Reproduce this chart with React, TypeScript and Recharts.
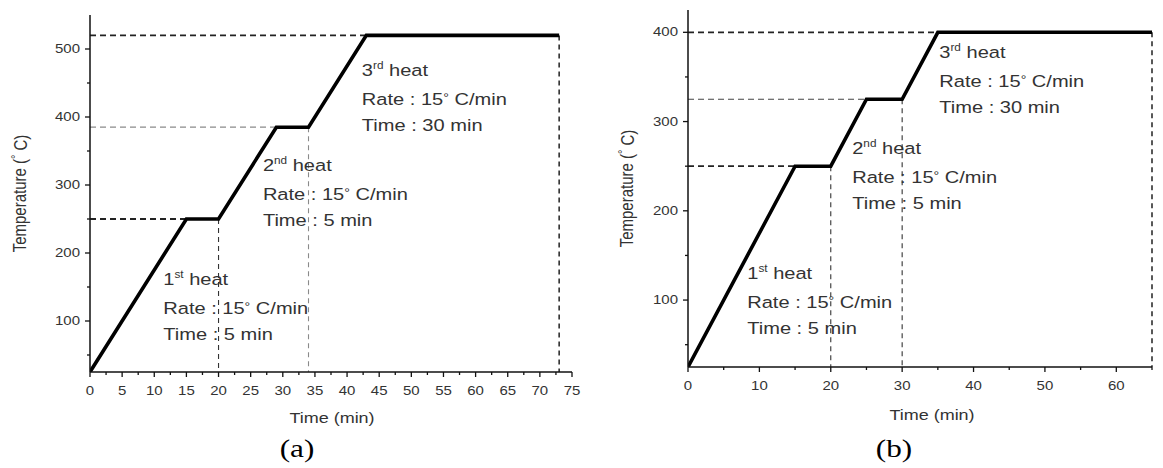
import { LineChart, Line, XAxis, YAxis, ReferenceLine, ReferenceDot, Label } from 'recharts'

// (a) heating schedule
const timeA = [0, 15, 20, 29, 34, 43, 73]
const tempA = [25, 250, 250, 385, 385, 520, 520]
// (b) heating schedule
const timeB = [0, 15, 20, 25, 30, 35, 65]
const tempB = [25, 250, 250, 325, 325, 400, 400]

const xMajorA = [0, 5, 10, 15, 20, 25, 30, 35, 40, 45, 50, 55, 60, 65, 70, 75]
const xMinorA = [2.5, 7.5, 12.5, 17.5, 22.5, 27.5, 32.5, 37.5, 42.5, 47.5, 52.5, 57.5, 62.5, 67.5, 72.5]
const yMajorA = [100, 200, 300, 400, 500]
const yMinorA = [50, 150, 250, 350, 450]

const xMajorB = [0, 10, 20, 30, 40, 50, 60]
const xMinorB = [5, 15, 25, 35, 45, 55, 65]
const yMajorB = [100, 200, 300, 400]
const yMinorB = [50, 150, 250, 350]

const stepNo = ['1', '2', '3']
const stepSuffix = ['st', 'nd', 'rd']
const rates = [15, 15, 15]
const holdTimes = [5, 5, 30]

// where each note block starts (data units)
const noteTimeA = [11.4, 26.9, 42.3]
const noteTempA = [153, 321, 460]
const noteTimeB = [8.3, 23, 35.2]
const noteTempB = [124, 264, 371]

const SX = 1.2
const INK = '#333'
const AXIS = '#111'

function XTick({ x, y, payload, majors }: any) {
  const major = majors.includes(payload.value)
  return (
    <g>
      <line x1={x} x2={x} y1={y} y2={y + (major ? 5 : 3)} stroke={AXIS} strokeWidth={1.3} />
      {major && (
        <text
          transform={`translate(${x},${y + 19}) scale(${SX},1)`}
          textAnchor="middle"
          dominantBaseline="central"
          fontSize={12.5}
          fill={INK}
        >
          {payload.value}
        </text>
      )}
    </g>
  )
}

function YTick({ x, y, payload, majors }: any) {
  const major = majors.includes(payload.value)
  return (
    <g>
      <line x1={x - (major ? 5 : 3)} x2={x} y1={y} y2={y} stroke={AXIS} strokeWidth={1.3} />
      {major && (
        <text
          transform={`translate(${x - 10},${y}) scale(${SX},1)`}
          textAnchor="end"
          dominantBaseline="central"
          fontSize={12.5}
          fill={INK}
        >
          {payload.value}
        </text>
      )}
    </g>
  )
}

function Note({ cx, cy, i }: any) {
  const at = (dy: number) => `translate(${cx},${cy + dy}) scale(1.18,1)`
  return (
    <g fill={INK} fontSize={17}>
      <text transform={at(0)}>
        {stepNo[i]}
        <tspan fontSize={10} dy={-7}>{stepSuffix[i]}</tspan>
        <tspan dy={7}> heat</tspan>
      </text>
      <text transform={at(29)}>
        Rate : {rates[i]}
        <tspan fontSize={12} dy={-3}>°</tspan>
        <tspan dy={3}> C/min</tspan>
      </text>
      <text transform={at(55)}>Time : {holdTimes[i]} min</text>
    </g>
  )
}

interface PanelProps {
  time: number[]
  temp: number[]
  xMajor: number[]
  xMinor: number[]
  yMajor: number[]
  yMinor: number[]
  xMax: number
  yMax: number
  noteTime: number[]
  noteTemp: number[]
  width: number
  axisWidth: number
  margin: { top: number; right: number; bottom: number; left: number }
  titleDx: number
  yTitleX: number
  xTitleDy: number
  tag: string
  tagDx: number
  tagDy: number
  levelColors: string[]
  dropColors: string[]
}

function Panel(p: PanelProps) {
  const data = p.time.map((t, i) => ({ t, v: p.temp[i] }))
  const yMin = p.temp[0]
  const plateaus = [1, 3, 5]
  return (
    <LineChart width={p.width} height={468} data={data} margin={p.margin}>
      <XAxis
        dataKey="t"
        type="number"
        domain={[0, p.xMax]}
        allowDataOverflow
        ticks={[...p.xMajor, ...p.xMinor].sort((a, b) => a - b)}
        interval={0}
        tickSize={0}
        tickMargin={0}
        tickLine={false}
        axisLine={{ stroke: AXIS, strokeWidth: 1.5 }}
        tick={(props: any) => <XTick {...props} majors={p.xMajor} />}
      >
        <Label
          content={({ viewBox }: any) => (
            <g>
              <text
                transform={`translate(${viewBox.x + viewBox.width / 2 + p.titleDx},${viewBox.y + p.xTitleDy}) scale(${SX},1)`}
                textAnchor="middle"
                dominantBaseline="central"
                fontSize={15}
                fill={INK}
              >
                Time (min)
              </text>
              <text
                transform={`translate(${viewBox.x + viewBox.width / 2 + p.tagDx},${viewBox.y + p.tagDy}) scale(${SX},1)`}
                textAnchor="middle"
                dominantBaseline="central"
                fontSize={26}
                fontFamily='"Liberation Serif", "Times New Roman", serif'
                fill="#000"
              >
                {p.tag}
              </text>
            </g>
          )}
        />
      </XAxis>
      <YAxis
        type="number"
        width={p.axisWidth}
        domain={[yMin, p.yMax]}
        allowDataOverflow
        ticks={[...p.yMajor, ...p.yMinor].sort((a, b) => a - b)}
        interval={0}
        tickSize={0}
        tickMargin={0}
        tickLine={false}
        axisLine={{ stroke: AXIS, strokeWidth: 1.5 }}
        tick={(props: any) => <YTick {...props} majors={p.yMajor} />}
      >
        <Label
          content={({ viewBox }: any) => (
            <text
              transform={`translate(${viewBox.x + p.yTitleX},${viewBox.y + viewBox.height / 2}) rotate(-90) scale(1,${SX})`}
              textAnchor="middle"
              dominantBaseline="central"
              fontSize={15}
              fill={INK}
            >
              Temperature (<tspan fontSize={11} dy={-4}>°</tspan>
              <tspan dy={4}> C)</tspan>
            </text>
          )}
        />
      </YAxis>
      {plateaus.map((k, j) => (
        <ReferenceLine
          key={`h${k}`}
          segment={[
            { x: 0, y: p.temp[k] },
            { x: p.time[k], y: p.temp[k] },
          ]}
          stroke={p.levelColors[j]}
          strokeWidth={p.levelColors[j] === '#222' ? 1.8 : 1.2}
          strokeDasharray="6 4"
        />
      ))}
      {plateaus.map((k, j) => (
        <ReferenceLine
          key={`v${k}`}
          segment={[
            { x: p.time[k + 1], y: p.temp[k + 1] },
            { x: p.time[k + 1], y: yMin },
          ]}
          stroke={p.dropColors[j]}
          strokeWidth={p.dropColors[j] === '#222' ? 1.5 : 1.1}
          strokeDasharray="5 4"
        />
      ))}
      <Line
        type="linear"
        dataKey="v"
        stroke="#000"
        strokeWidth={3.6}
        dot={false}
        isAnimationActive={false}
      />
      {p.noteTime.map((t, i) => (
        <ReferenceDot
          key={`n${i}`}
          x={t}
          y={p.noteTemp[i]}
          r={0}
          shape={(s: any) => <Note cx={s.cx} cy={s.cy} i={i} />}
        />
      ))}
    </LineChart>
  )
}

export default function App() {
  return (
    <div
      style={{
        position: 'absolute',
        left: 0,
        top: 0,
        width: 1163,
        height: 468,
        background: '#fff',
        fontFamily: '"Liberation Sans", Arial, sans-serif',
        overflow: 'hidden',
      }}
    >
      <div style={{ position: 'absolute', left: 0, top: 0 }}>
        <Panel
          time={timeA}
          temp={tempA}
          xMajor={xMajorA}
          xMinor={xMinorA}
          yMajor={yMajorA}
          yMinor={yMinorA}
          xMax={75}
          yMax={550}
          noteTime={noteTimeA}
          noteTemp={noteTempA}
          width={590}
          axisWidth={90}
          margin={{ top: 15, right: 18, bottom: 66, left: 0 }}
          titleDx={1}
          yTitleX={20}
          xTitleDy={46}
          tag="(a)"
          tagDx={-34}
          tagDy={76}
          levelColors={['#222', '#8a8a8a', '#222']}
          dropColors={['#333', '#8a8a8a', '#222']}
        />
      </div>
      <div style={{ position: 'absolute', left: 590, top: 0 }}>
        <Panel
          time={timeB}
          temp={tempB}
          xMajor={xMajorB}
          xMinor={xMinorB}
          yMajor={yMajorB}
          yMinor={yMinorB}
          xMax={65}
          yMax={425}
          noteTime={noteTimeB}
          noteTemp={noteTempB}
          width={573}
          axisWidth={98}
          margin={{ top: 10, right: 11, bottom: 71, left: 0 }}
          titleDx={12}
          yTitleX={37}
          xTitleDy={48}
          tag="(b)"
          tagDx={-26}
          tagDy={81}
          levelColors={['#222', '#444', '#222']}
          dropColors={['#333', '#333', '#222']}
        />
      </div>
    </div>
  )
}
